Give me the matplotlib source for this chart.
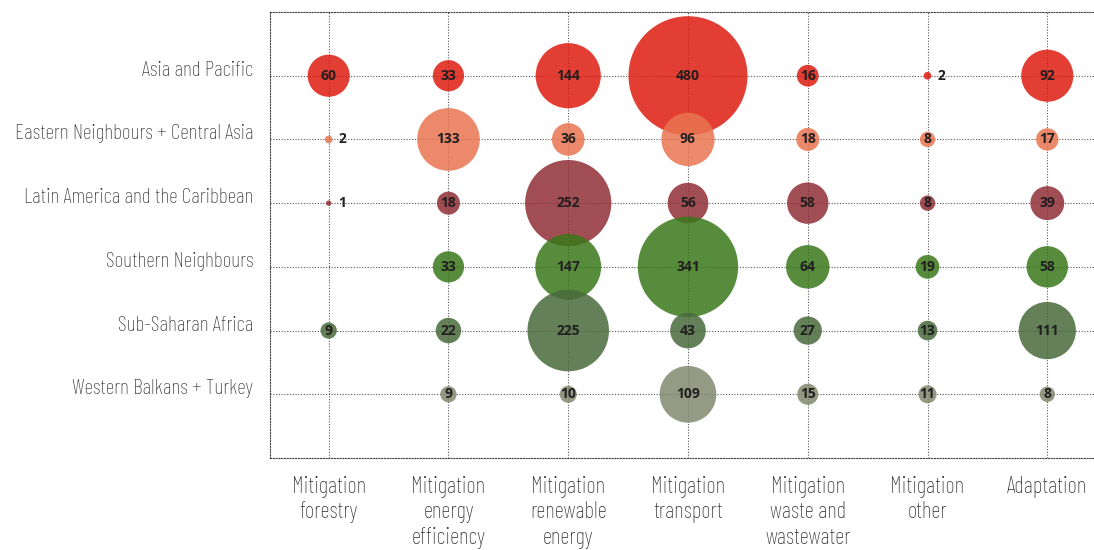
import matplotlib.pyplot as plt

regions = ["Asia and Pacific", "Eastern Neighbours + Central Asia",
           "Latin America and the Caribbean", "Southern Neighbours",
           "Sub-Saharan Africa", "Western Balkans + Turkey"]
categories = ["Mitigation\nforestry", "Mitigation\nenergy\nefficiency",
              "Mitigation\nrenewable\nenergy", "Mitigation\ntransport",
              "Mitigation\nwaste and\nwastewater", "Mitigation\nother", "Adaptation"]

# None = no bubble
asia = [60, 33, 144, 480, 16, 2, 92]
eastern = [2, 133, 36, 96, 18, 8, 17]
latin = [1, 18, 252, 56, 58, 8, 39]
southern = [None, 33, 147, 341, 64, 19, 58]
subsaharan = [9, 22, 225, 43, 27, 13, 111]
balkans = [None, 9, 10, 109, 15, 11, 8]
rows = [asia, eastern, latin, southern, subsaharan, balkans]
colors = ["#df1c10", "#e87550", "#8f2f36", "#3a781a", "#496a3b", "#81886e"]

label_font = ["Barlow Condensed", "DejaVu Sans"]
num_font = ["Open Sans", "DejaVu Sans"]

fig = plt.figure(figsize=(10.94, 5.5), dpi=100)
ax = fig.add_axes([270 / 1094, 1 - 458 / 550, 1 - 270 / 1094, (458 - 12) / 550])

for i, vals in enumerate(rows):
    for j, v in enumerate(vals):
        if v is None:
            continue
        ax.scatter(j, i, s=15.3 * v, color=colors[i], alpha=0.85,
                   edgecolors="none", zorder=3)
        if v <= 2:
            ax.annotate(str(v), (j, i), xytext=(7, 0), textcoords="offset points",
                        ha="left", va="center", fontsize=10, fontweight="bold",
                        family=num_font, color="#231f20", zorder=4)
        else:
            ax.text(j, i, str(v), ha="center", va="center", fontsize=10,
                    fontweight="bold", family=num_font, color="#231f20", zorder=4)

ax.set_xlim(-0.49, 6.39)
ax.set_ylim(6.0, -1.0)
ax.set_xticks(range(len(categories)))
ax.set_xticklabels(categories, fontsize=16.5, family=label_font, fontweight="light",
                   color="#2b2b2b", va="top", linespacing=1.2)
ax.set_yticks(range(len(regions)))
ax.set_yticklabels(regions, fontsize=15.5, family=label_font, fontweight="light",
                   color="#2b2b2b", va="baseline")
ax.tick_params(length=0)
ax.tick_params(axis="x", pad=13)
ax.tick_params(axis="y", pad=12)

ax.grid(True, linestyle=(0, (1, 1.5)), color="#555555", linewidth=0.8, zorder=0)
for side in ["left", "bottom", "top"]:
    ax.spines[side].set_linestyle((0, (1, 1.5)))
    ax.spines[side].set_color("#444444")
    ax.spines[side].set_linewidth(0.8)
ax.spines["right"].set_visible(False)

fig.savefig("out.png", dpi=100)
